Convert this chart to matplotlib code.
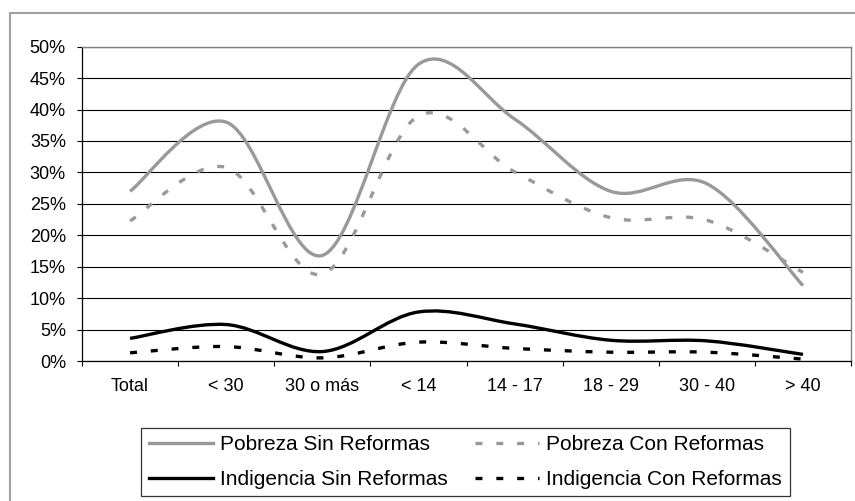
import numpy as np
import matplotlib
matplotlib.use("Agg")
import matplotlib.pyplot as plt
from matplotlib.path import Path
from matplotlib.patches import PathPatch, Rectangle
from matplotlib.lines import Line2D

######################################################################################
# Data
######################################################################################

categories = ["Total", "< 30", "30 o más", "< 14", "14 - 17", "18 - 29", "30 - 40", "> 40"]

pobreza_sin = [27.0, 38.0, 16.8, 47.2, 38.5, 27.0, 28.2, 12.0]
pobreza_con = [22.3, 30.8, 13.8, 39.0, 30.1, 22.8, 22.4, 14.1]
indigencia_sin = [3.6, 5.8, 1.5, 7.8, 5.9, 3.3, 3.2, 1.05]
indigencia_con = [1.3, 2.3, 0.5, 3.0, 2.0, 1.4, 1.4, 0.3]

series_labels = ["Pobreza Sin Reformas", "Pobreza Con Reformas",
                 "Indigencia Sin Reformas", "Indigencia Con Reformas"]

y_ticks = [0, 5, 10, 15, 20, 25, 30, 35, 40, 45, 50]

######################################################################################
# Style
######################################################################################

plt.rcParams['font.family'] = ['Liberation Sans', 'DejaVu Sans']
plt.rcParams['lines.scale_dashes'] = False

GRAY = '#999999'
DASH = (0, (5, 10))


def smooth_path(xs, ys):
    # Excel-like smoothed line: cubic Bezier through every data point
    pts = np.column_stack([xs, ys]).astype(float)
    n = len(pts)
    verts = [pts[0]]
    codes = [Path.MOVETO]
    for i in range(n - 1):
        p0 = pts[max(i - 1, 0)]
        p1 = pts[i]
        p2 = pts[i + 1]
        p3 = pts[min(i + 2, n - 1)]
        verts += [p1 + (p2 - p0) / 6.0, p2 - (p3 - p1) / 6.0, p2]
        codes += [Path.CURVE4] * 3
    return Path(verts, codes)


######################################################################################
# Plot
######################################################################################

fig = plt.figure(figsize=(8.55, 5.01), dpi=100)
ax = fig.add_axes([82 / 855, 1 - 361 / 501, 769 / 855, 314.3 / 501])

x = np.arange(len(categories)) + 0.5

styles = [
    (pobreza_sin, GRAY, '-'),
    (pobreza_con, GRAY, DASH),
    (indigencia_sin, 'black', '-'),
    (indigencia_con, 'black', DASH),
]

handles = []
for (vals, col, ls), lab in zip(styles, series_labels):
    patch = PathPatch(smooth_path(x, vals), facecolor='none', edgecolor=col,
                      linewidth=2.4, linestyle=ls, capstyle='butt', zorder=3)
    ax.add_patch(patch)
    handles.append(Line2D([], [], color=col, linewidth=2.4, linestyle=ls, label=lab))

ax.set_xlim(0, len(categories))
ax.set_ylim(0, 50)

ax.set_yticks(y_ticks)
ax.set_yticklabels(["{}%".format(v) for v in y_ticks])
ax.set_xticks(np.arange(len(categories) + 1))
ax.set_xticklabels([])
ax.set_xticks(x, minor=True)
ax.set_xticklabels(categories, minor=True)

ax.tick_params(axis='y', direction='out', length=3.6, width=0.8, pad=8, labelsize=13)
ax.tick_params(axis='x', which='major', direction='out', length=3.3, width=0.8)
ax.tick_params(axis='x', which='minor', length=0, pad=12, labelsize=13)

ax.grid(axis='y', color='black', linewidth=0.8)
ax.set_axisbelow(True)

for side in ['left', 'bottom']:
    ax.spines[side].set_color('black')
    ax.spines[side].set_linewidth(0.9)
for side in ['top', 'right']:
    ax.spines[side].set_color('#808080')
    ax.spines[side].set_linewidth(1.0)

# chart border (cut at the right and bottom of the picture)
fig.add_artist(Rectangle((9.5 / 855, -0.1), 2, 1 - 12.5 / 501 + 0.1,
                         transform=fig.transFigure, fill=False,
                         edgecolor='#a0a0a0', linewidth=1.5))

order = [handles[0], handles[2], handles[1], handles[3]]
leg = fig.legend(handles=order, loc='center', ncol=2,
                 bbox_to_anchor=(465.5 / 855, 1 - 462 / 501),
                 fontsize=15, frameon=True, fancybox=False, shadow=False,
                 handlelength=3.07, handletextpad=0.34, columnspacing=1.34,
                 labelspacing=0.75, borderpad=0.35)
leg.get_frame().set_edgecolor('black')
leg.get_frame().set_linewidth(0.9)

fig.savefig("out.png", dpi=100)
